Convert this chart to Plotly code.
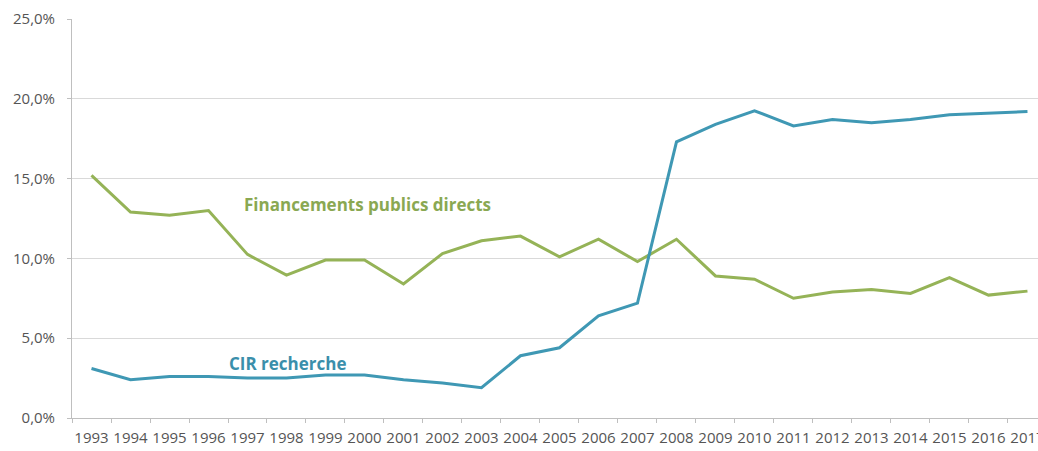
import plotly.graph_objects as go

years = [str(y) for y in range(1993, 2018)]

# Part of R&D spending covered by each instrument (%)
financements_publics = [15.2, 12.9, 12.7, 13.0, 10.25, 8.95, 9.9, 9.9, 8.4, 10.3,
                        11.1, 11.4, 10.1, 11.2, 9.8, 11.2, 8.9, 8.7, 7.5, 7.9,
                        8.05, 7.8, 8.8, 7.7, 7.95]
cir_recherche = [3.1, 2.4, 2.6, 2.6, 2.5, 2.5, 2.7, 2.7, 2.4, 2.2,
                 1.9, 3.9, 4.4, 6.4, 7.2, 17.3, 18.4, 19.25, 18.3, 18.7,
                 18.5, 18.7, 19.0, 19.1, 19.2]

y_ticks = [0, 5, 10, 15, 20, 25]
y_tick_labels = ["0,0%", "5,0%", "10,0%", "15,0%", "20,0%", "25,0%"]

GREEN = "#95b357"
BLUE = "#3f98b4"
FONT = "Open Sans"
TICK_COLOR = "#555555"

fig = go.Figure()
fig.add_trace(go.Scatter(x=years, y=financements_publics, mode="lines",
                         line=dict(color=GREEN, width=3), name="Financements publics directs"))
fig.add_trace(go.Scatter(x=years, y=cir_recherche, mode="lines",
                         line=dict(color=BLUE, width=3), name="CIR recherche"))

fig.add_annotation(x=7.08, y=13.4, xref="x", yref="y", text="<b>Financements publics directs</b>",
                   showarrow=False, font=dict(family=FONT, size=17, color="#8aa852"))
fig.add_annotation(x=5.05, y=3.44, xref="x", yref="y", text="<b>CIR recherche</b>",
                   showarrow=False, font=dict(family=FONT, size=17, color="#3a8fab"))

fig.update_layout(
    width=1038, height=451,
    margin=dict(l=72, r=0, t=19, b=33, autoexpand=False),
    paper_bgcolor="white", plot_bgcolor="white",
    showlegend=False,
    font=dict(family=FONT, size=15, color=TICK_COLOR),
)
fig.update_xaxes(
    type="category", range=[-0.5, 24.27], automargin=False,
    showgrid=False, showline=True, linecolor="#bfbfbf", linewidth=1,
    ticks="outside", tickson="boundaries", ticklen=4, tickcolor="#bfbfbf",
    tickfont=dict(family=FONT, size=15, color=TICK_COLOR),
    tickangle=0, ticklabelstandoff=6,
)
fig.update_yaxes(
    range=[0, 25], tickvals=y_ticks, ticktext=y_tick_labels, automargin=False,
    showgrid=True, gridcolor="#d9d9d9", gridwidth=1,
    showline=True, linecolor="#bfbfbf", linewidth=1,
    ticks="outside", ticklen=4, tickcolor="#bfbfbf",
    tickfont=dict(family=FONT, size=15, color=TICK_COLOR),
    ticklabelstandoff=9,
    zeroline=False,
)

fig.write_html("out.html")
